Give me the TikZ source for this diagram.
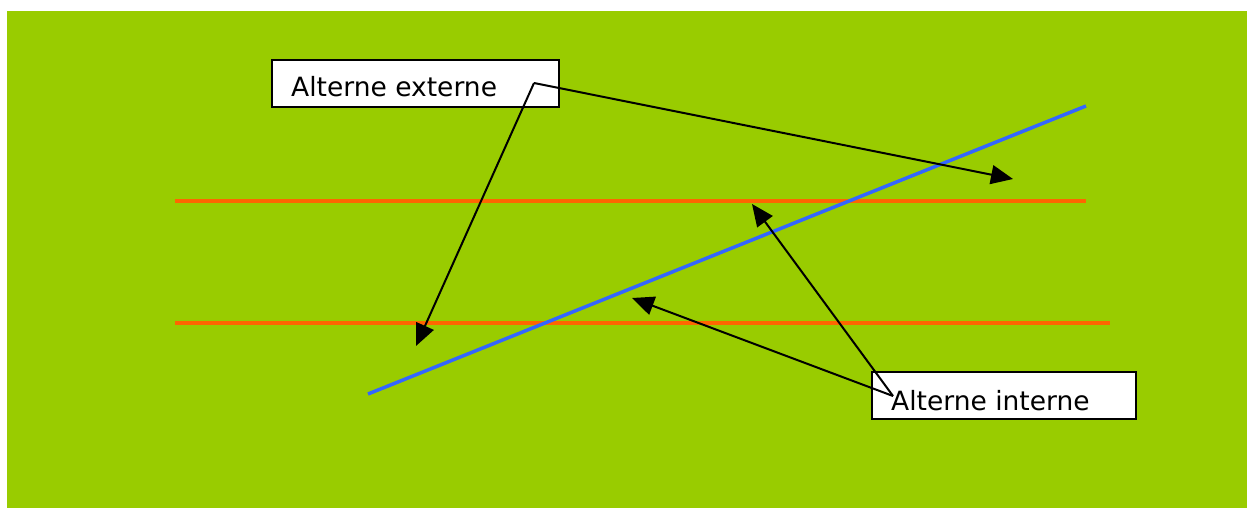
\documentclass[tikz,border=0pt]{standalone}
\usepackage{fontspec}
\setmainfont{DejaVu Sans}
\usetikzlibrary{arrows.meta}
\definecolor{bggreen}{HTML}{99CC00}
\definecolor{lineorange}{HTML}{FF6600}
\definecolor{lineblue}{HTML}{3366FF}
\tikzset{
  px/.style={x=1pt,y=-1pt},
  hline/.style={draw=lineorange,line width=3.5pt},
  tline/.style={draw=lineblue,line width=3.5pt},
  box/.style={draw=black,fill=white,line width=2pt,anchor=north west,inner sep=0pt},
  lbl/.style={anchor=base west,inner sep=0pt,font=\fontsize{26.5}{31}\selectfont},
  arr/.style={draw=black,line width=2pt,-{Triangle[length=22pt,width=19pt]}}
}
\begin{document}
\begin{tikzpicture}[px]
\useasboundingbox (0,0) rectangle (1247,508);
\fill[white] (0,0) rectangle (1247,508);
\fill[bggreen] (7,11) rectangle (1247,508);
% lines
\coordinate (o1a) at (175,201);
\coordinate (o1b) at (1086,201);
\coordinate (o2a) at (175,323);
\coordinate (o2b) at (1110,323);
\coordinate (ta) at (368,394);
\coordinate (tb) at (1086,106);
\draw[hline] (o1a) -- (o1b);
\draw[hline] (o2a) -- (o2b);
\draw[tline] (ta) -- (tb);
% boxes
\node[box,minimum width=287pt,minimum height=47pt] (ext) at (271,59) {};
\node[lbl] (extT) at (291,97) {Alterne externe};
\node[box,minimum width=264pt,minimum height=47pt] (int) at (871,371) {};
\node[lbl] (intT) at (891,410) {Alterne interne};
% arrows
\coordinate (es) at (534,83);
\coordinate (e1) at (1013,179);
\coordinate (e2) at (416,346);
\coordinate (is) at (893,396);
\coordinate (i1) at (752,204);
\coordinate (i2) at (632,298);
\draw[arr] (es) -- (e1);
\draw[arr] (es) -- (e2);
\draw[arr] (is) -- (i1);
\draw[arr] (is) -- (i2);
\end{tikzpicture}
\end{document}
